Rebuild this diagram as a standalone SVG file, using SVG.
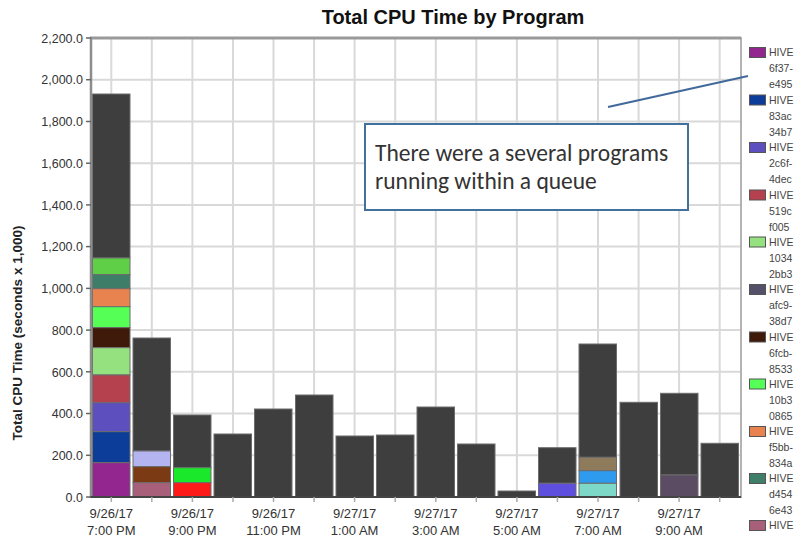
<svg xmlns="http://www.w3.org/2000/svg" width="796" height="539" viewBox="0 0 796 539">
  <style>
    text { font-family: "Liberation Sans", Arial, sans-serif; fill: #333; }
    .title { font-size: 20px; font-weight: bold; fill: #111; }
    .ylab { font-size: 12.5px; text-anchor: end; }
    .xlab { font-size: 13px; text-anchor: middle; }
    .ytitle { font-size: 13.5px; font-weight: bold; text-anchor: middle; fill: #222; }
    .grid line { stroke: #d9d9d9; stroke-width: 2; }
    .bar { stroke: #6c6c6c; stroke-width: 1; }
    .base { fill: #3e3e3e; }
    .leg { font-size: 10.5px; fill: #444; }
    .sw { stroke: #555; stroke-width: 1; }
    .note { font-family: "Carlito", "Liberation Sans", Arial, sans-serif; font-size: 23.5px; fill: #333; }
  </style>

  <rect width="796" height="539" fill="#ffffff"/>

  <!-- title -->
  <g id="title">
    <text class="title" x="453" y="24" text-anchor="middle">Total CPU Time by Program</text>
  </g>

  <!-- gridlines: every 200 units and every bar centre -->
  <g id="grid" class="grid">
    <line x1="91" y1="79.7" x2="740" y2="79.7"/>
    <line x1="91" y1="121.5" x2="740" y2="121.5"/>
    <line x1="91" y1="163.2" x2="740" y2="163.2"/>
    <line x1="91" y1="204.9" x2="740" y2="204.9"/>
    <line x1="91" y1="246.6" x2="740" y2="246.6"/>
    <line x1="91" y1="288.4" x2="740" y2="288.4"/>
    <line x1="91" y1="330.1" x2="740" y2="330.1"/>
    <line x1="91" y1="371.8" x2="740" y2="371.8"/>
    <line x1="91" y1="413.5" x2="740" y2="413.5"/>
    <line x1="91" y1="455.3" x2="740" y2="455.3"/>
    <line x1="111.3" y1="38" x2="111.3" y2="497"/>
    <line x1="151.8" y1="38" x2="151.8" y2="497"/>
    <line x1="192.4" y1="38" x2="192.4" y2="497"/>
    <line x1="233" y1="38" x2="233" y2="497"/>
    <line x1="273.5" y1="38" x2="273.5" y2="497"/>
    <line x1="314.1" y1="38" x2="314.1" y2="497"/>
    <line x1="354.6" y1="38" x2="354.6" y2="497"/>
    <line x1="395.2" y1="38" x2="395.2" y2="497"/>
    <line x1="435.8" y1="38" x2="435.8" y2="497"/>
    <line x1="476.3" y1="38" x2="476.3" y2="497"/>
    <line x1="516.9" y1="38" x2="516.9" y2="497"/>
    <line x1="557.4" y1="38" x2="557.4" y2="497"/>
    <line x1="598" y1="38" x2="598" y2="497"/>
    <line x1="638.6" y1="38" x2="638.6" y2="497"/>
    <line x1="679.1" y1="38" x2="679.1" y2="497"/>
    <line x1="719.7" y1="38" x2="719.7" y2="497"/>
  </g>

  <!-- stacked bars -->
  <g id="bars">
    <!-- 9/26 7:00 PM -->
    <rect class="bar base" x="92.5" y="94" width="37.5" height="164"/>
    <rect class="bar" fill="#5fcf48" x="92.5" y="258" width="37.5" height="16.5"/>
    <rect class="bar" fill="#3e7e68" x="92.5" y="274.5" width="37.5" height="14.2"/>
    <rect class="bar" fill="#e8834f" x="92.5" y="288.7" width="37.5" height="18"/>
    <rect class="bar" fill="#55ff55" x="92.5" y="306.7" width="37.5" height="21"/>
    <rect class="bar" fill="#3f1a0a" x="92.5" y="327.7" width="37.5" height="20"/>
    <rect class="bar" fill="#95e17f" x="92.5" y="347.7" width="37.5" height="27.3"/>
    <rect class="bar" fill="#b5414f" x="92.5" y="375" width="37.5" height="27.7"/>
    <rect class="bar" fill="#5e4fbf" x="92.5" y="402.7" width="37.5" height="29"/>
    <rect class="bar" fill="#0c3e99" x="92.5" y="431.7" width="37.5" height="31"/>
    <rect class="bar" fill="#93278f" x="92.5" y="462.7" width="37.5" height="34.3"/>
    <!-- 8:00 PM -->
    <rect class="bar base" x="133" y="338" width="37.5" height="113"/>
    <rect class="bar" fill="#b4b4f0" x="133" y="451" width="37.5" height="15.7"/>
    <rect class="bar" fill="#7b3a14" x="133" y="466.7" width="37.5" height="16"/>
    <rect class="bar" fill="#a8607a" x="133" y="482.7" width="37.5" height="14.3"/>
    <!-- 9:00 PM -->
    <rect class="bar base" x="173.5" y="415" width="37.5" height="52.7"/>
    <rect class="bar" fill="#1ae82a" x="173.5" y="467.7" width="37.5" height="15"/>
    <rect class="bar" fill="#ff1a1a" x="173.5" y="482.7" width="37.5" height="14.3"/>
    <!-- 10:00 PM .. 5:00 AM -->
    <rect class="bar base" x="214" y="434" width="37.5" height="63"/>
    <rect class="bar base" x="254.5" y="409" width="37.5" height="88"/>
    <rect class="bar base" x="295.5" y="395" width="37.5" height="102"/>
    <rect class="bar base" x="336" y="436" width="37.5" height="61"/>
    <rect class="bar base" x="376.5" y="435" width="37.5" height="62"/>
    <rect class="bar base" x="417" y="407" width="37.5" height="90"/>
    <rect class="bar base" x="457.5" y="444" width="37.5" height="53"/>
    <rect class="bar base" x="498" y="491" width="37.5" height="6"/>
    <!-- 6:00 AM -->
    <rect class="bar base" x="538.5" y="447.7" width="37.5" height="35.6"/>
    <rect class="bar" fill="#5e4fdf" x="538.5" y="483.3" width="37.5" height="13.7"/>
    <!-- 7:00 AM -->
    <rect class="bar base" x="579" y="344" width="37.5" height="113.3"/>
    <rect class="bar" fill="#8e7b5c" x="579" y="457.3" width="37.5" height="13.4"/>
    <rect class="bar" fill="#2e9bef" x="579" y="470.7" width="37.5" height="12.6"/>
    <rect class="bar" fill="#7ed8c8" x="579" y="483.3" width="37.5" height="13.7"/>
    <!-- 8:00 AM .. 10:00 AM -->
    <rect class="bar base" x="620" y="402.3" width="37.5" height="94.7"/>
    <rect class="bar base" x="660.5" y="393.3" width="37.5" height="81.7"/>
    <rect class="bar" fill="#5b4c63" x="660.5" y="475" width="37.5" height="22"/>
    <rect class="bar base" x="701" y="443.3" width="37.5" height="53.7"/>
  </g>

  <!-- axes and frame -->
  <g id="axes">
    <line x1="90" y1="38" x2="741" y2="38" stroke="#9a9a9a" stroke-width="3"/>
    <line x1="91" y1="37" x2="91" y2="498" stroke="#8c8c8c" stroke-width="2.5"/>
    <line x1="741" y1="37" x2="741" y2="498" stroke="#9a9a9a" stroke-width="1.5"/>
    <line x1="90" y1="497" x2="741" y2="497" stroke="#444" stroke-width="2"/>
    <g stroke="#666" stroke-width="1.5">
      <line x1="86" y1="38" x2="91" y2="38"/>
      <line x1="86" y1="79.7" x2="91" y2="79.7"/>
      <line x1="86" y1="121.5" x2="91" y2="121.5"/>
      <line x1="86" y1="163.2" x2="91" y2="163.2"/>
      <line x1="86" y1="204.9" x2="91" y2="204.9"/>
      <line x1="86" y1="246.6" x2="91" y2="246.6"/>
      <line x1="86" y1="288.4" x2="91" y2="288.4"/>
      <line x1="86" y1="330.1" x2="91" y2="330.1"/>
      <line x1="86" y1="371.8" x2="91" y2="371.8"/>
      <line x1="86" y1="413.5" x2="91" y2="413.5"/>
      <line x1="86" y1="455.3" x2="91" y2="455.3"/>
      <line x1="86" y1="497" x2="91" y2="497"/>
    </g>
    <g stroke="#aaa" stroke-width="1.5">
      <line x1="111.3" y1="497" x2="111.3" y2="502"/>
      <line x1="151.8" y1="497" x2="151.8" y2="502"/>
      <line x1="192.4" y1="497" x2="192.4" y2="502"/>
      <line x1="233" y1="497" x2="233" y2="502"/>
      <line x1="273.5" y1="497" x2="273.5" y2="502"/>
      <line x1="314.1" y1="497" x2="314.1" y2="502"/>
      <line x1="354.6" y1="497" x2="354.6" y2="502"/>
      <line x1="395.2" y1="497" x2="395.2" y2="502"/>
      <line x1="435.8" y1="497" x2="435.8" y2="502"/>
      <line x1="476.3" y1="497" x2="476.3" y2="502"/>
      <line x1="516.9" y1="497" x2="516.9" y2="502"/>
      <line x1="557.4" y1="497" x2="557.4" y2="502"/>
      <line x1="598" y1="497" x2="598" y2="502"/>
      <line x1="638.6" y1="497" x2="638.6" y2="502"/>
      <line x1="679.1" y1="497" x2="679.1" y2="502"/>
      <line x1="719.7" y1="497" x2="719.7" y2="502"/>
    </g>

    <text class="ylab" x="83" y="42.5">2,200.0</text>
    <text class="ylab" x="83" y="84">2,000.0</text>
    <text class="ylab" x="83" y="126">1,800.0</text>
    <text class="ylab" x="83" y="167.5">1,600.0</text>
    <text class="ylab" x="83" y="209.5">1,400.0</text>
    <text class="ylab" x="83" y="251">1,200.0</text>
    <text class="ylab" x="83" y="293">1,000.0</text>
    <text class="ylab" x="83" y="334.5">800.0</text>
    <text class="ylab" x="83" y="376.5">600.0</text>
    <text class="ylab" x="83" y="418">400.0</text>
    <text class="ylab" x="83" y="460">200.0</text>
    <text class="ylab" x="83" y="501.5">0.0</text>

    <text class="ytitle" transform="translate(22,333) rotate(-90)">Total CPU Time (seconds x 1,000)</text>

    <g class="xlab">
      <text class="xlab" x="111.3" y="518">9/26/17</text>
      <text class="xlab" x="111.3" y="535">7:00 PM</text>
      <text class="xlab" x="192.4" y="518">9/26/17</text>
      <text class="xlab" x="192.4" y="535">9:00 PM</text>
      <text class="xlab" x="273.5" y="518">9/26/17</text>
      <text class="xlab" x="273.5" y="535">11:00 PM</text>
      <text class="xlab" x="354.6" y="518">9/27/17</text>
      <text class="xlab" x="354.6" y="535">1:00 AM</text>
      <text class="xlab" x="435.8" y="518">9/27/17</text>
      <text class="xlab" x="435.8" y="535">3:00 AM</text>
      <text class="xlab" x="516.9" y="518">9/27/17</text>
      <text class="xlab" x="516.9" y="535">5:00 AM</text>
      <text class="xlab" x="598" y="518">9/27/17</text>
      <text class="xlab" x="598" y="535">7:00 AM</text>
      <text class="xlab" x="679.1" y="518">9/27/17</text>
      <text class="xlab" x="679.1" y="535">9:00 AM</text>
    </g>
  </g>

  <!-- legend (runs off the right edge) -->
  <g id="legend">
    <g id="leg-1">
      <rect class="sw" fill="#93278f" x="749.5" y="47.5" width="16" height="10"/>
      <text class="leg" x="769" y="56">HIVE</text>
      <text class="leg" x="769" y="72">6f37-</text>
      <text class="leg" x="769" y="88">e495</text>
    </g>
    <g id="leg-2">
      <rect class="sw" fill="#0c3e99" x="749.5" y="95" width="16" height="10"/>
      <text class="leg" x="769" y="103.5">HIVE</text>
      <text class="leg" x="769" y="119.5">83ac</text>
      <text class="leg" x="769" y="135.5">34b7</text>
    </g>
    <g id="leg-3">
      <rect class="sw" fill="#5e4fbf" x="749.5" y="142.5" width="16" height="10"/>
      <text class="leg" x="769" y="151">HIVE</text>
      <text class="leg" x="769" y="167">2c6f-</text>
      <text class="leg" x="769" y="183">4dec</text>
    </g>
    <g id="leg-4">
      <rect class="sw" fill="#b5414f" x="749.5" y="190" width="16" height="10"/>
      <text class="leg" x="769" y="198.5">HIVE</text>
      <text class="leg" x="769" y="214.5">519c</text>
      <text class="leg" x="769" y="230.5">f005</text>
    </g>
    <g id="leg-5">
      <rect class="sw" fill="#95e17f" x="749.5" y="237" width="16" height="10"/>
      <text class="leg" x="769" y="245.5">HIVE</text>
      <text class="leg" x="769" y="261.5">1034</text>
      <text class="leg" x="769" y="277.5">2bb3</text>
    </g>
    <g id="leg-6">
      <rect class="sw" fill="#55506a" x="749.5" y="284.5" width="16" height="10"/>
      <text class="leg" x="769" y="293">HIVE</text>
      <text class="leg" x="769" y="309">afc9-</text>
      <text class="leg" x="769" y="325">38d7</text>
    </g>
    <g id="leg-7">
      <rect class="sw" fill="#3f1a0a" x="749.5" y="332" width="16" height="10"/>
      <text class="leg" x="769" y="340.5">HIVE</text>
      <text class="leg" x="769" y="356.5">6fcb-</text>
      <text class="leg" x="769" y="372.5">8533</text>
    </g>
    <g id="leg-8">
      <rect class="sw" fill="#55ff55" x="749.5" y="379" width="16" height="10"/>
      <text class="leg" x="769" y="387.5">HIVE</text>
      <text class="leg" x="769" y="403.5">10b3</text>
      <text class="leg" x="769" y="419.5">0865</text>
    </g>
    <g id="leg-9">
      <rect class="sw" fill="#e8834f" x="749.5" y="426.5" width="16" height="10"/>
      <text class="leg" x="769" y="435">HIVE</text>
      <text class="leg" x="769" y="451">f5bb-</text>
      <text class="leg" x="769" y="467">834a</text>
    </g>
    <g id="leg-10">
      <rect class="sw" fill="#3f7f6a" x="749.5" y="473.5" width="16" height="10"/>
      <text class="leg" x="769" y="482">HIVE</text>
      <text class="leg" x="769" y="498">d454</text>
      <text class="leg" x="769" y="514">6e43</text>
    </g>
    <g id="leg-11">
      <rect class="sw" fill="#a8607a" x="749.5" y="520.5" width="16" height="10"/>
      <text class="leg" x="769" y="529">HIVE</text>
    </g>
  </g>

  <!-- callout -->
  <g id="callout">
    <rect x="365" y="124" width="323" height="86" fill="#ffffff" stroke="#41719c" stroke-width="2"/>
    <text class="note" x="375" y="161">There were a several programs</text>
    <text class="note" x="375" y="189">running within a queue</text>
  </g>

  <g id="connectors">
    <line x1="608" y1="107" x2="748" y2="76" stroke="#41699a" stroke-width="2"/>
  </g>
</svg>
